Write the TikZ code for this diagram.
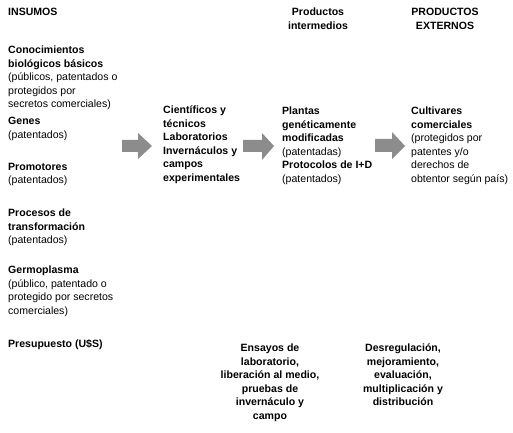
\documentclass[tikz,border=0pt]{standalone}
\usepackage{fontspec}
\setmainfont{Liberation Sans}
\definecolor{arrowgray}{HTML}{8C8C8C}
\tikzset{
  lefttext/.style={anchor=north west, align=left, inner sep=0pt,
    font=\fontsize{10.6}{13.5}\selectfont},
  boldtext/.style={lefttext, font=\fontsize{10.6}{13.5}\selectfont\bfseries},
  midtext/.style={anchor=north, align=center, inner sep=0pt,
    font=\fontsize{10.6}{13.5}\selectfont\bfseries},
  blockarrow/.style={fill=arrowgray}
}
\begin{document}
\begin{tikzpicture}[x=1bp, y=-1bp]

    \useasboundingbox (0, 0) rectangle (513, 433);

    % Column headings
    \node[boldtext] (insumos) at (8, 8) {INSUMOS};
    \node[midtext] (intermedios) at (318, 8) {Productos\\intermedios};
    \node[midtext] (externos) at (445, 8) {PRODUCTOS\\EXTERNOS};

    % Inputs
    \node[lefttext] (conocimientos) at (8, 46) {\textbf{Conocimientos}\\\textbf{biológicos básicos}\\(públicos, patentados o\\protegidos por\\secretos comerciales)};
    \node[lefttext] (genes) at (8, 117) {\textbf{Genes}\\(patentados)};
    \node[lefttext] (promotores) at (8, 163) {\textbf{Promotores}\\(patentados)};
    \node[lefttext] (procesos) at (8, 209) {\textbf{Procesos de}\\\textbf{transformación}\\(patentados)};
    \node[lefttext] (germoplasma) at (8, 266) {\textbf{Germoplasma}\\(público, patentado o\\protegido por secretos\\comerciales)};
    \node[boldtext] (presupuesto) at (8, 339) {Presupuesto (U\$S)};

    % Resources
    \node[boldtext] (cientificos) at (163, 106) {Científicos y\\técnicos\\Laboratorios\\Invernáculos y\\campos\\experimentales};

    % Intermediate products
    \node[lefttext] (plantas) at (282, 107) {\textbf{Plantas}\\\textbf{genéticamente}\\\textbf{modificadas}\\(patentadas)\\\textbf{Protocolos de I+D}\\(patentados)};

    % External products
    \node[lefttext] (cultivares) at (411, 107) {\textbf{Cultivares}\\\textbf{comerciales}\\(protegidos por\\patentes y/o\\derechos de\\obtentor según país)};

    % Activities
    \node[midtext] (ensayos) at (270, 344) {Ensayos de\\laboratorio,\\liberación al medio,\\pruebas de\\invernáculo y\\campo};
    \node[midtext] (desregulacion) at (403, 344) {Desregulación,\\mejoramiento,\\evaluación,\\multiplicación y\\distribución};

    % Block arrows
    \fill[blockarrow] (122, 140) -- (138, 140) -- (138, 133) -- (152, 146) -- (138, 159) -- (138, 152) -- (122, 152) -- cycle;
    \fill[blockarrow] (243, 140) -- (262, 140) -- (262, 133) -- (274, 146) -- (262, 160) -- (262, 152) -- (243, 152) -- cycle;
    \fill[blockarrow] (375, 139) -- (392, 139) -- (392, 132) -- (405, 146) -- (392, 159) -- (392, 152) -- (375, 152) -- cycle;

\end{tikzpicture}
\end{document}
